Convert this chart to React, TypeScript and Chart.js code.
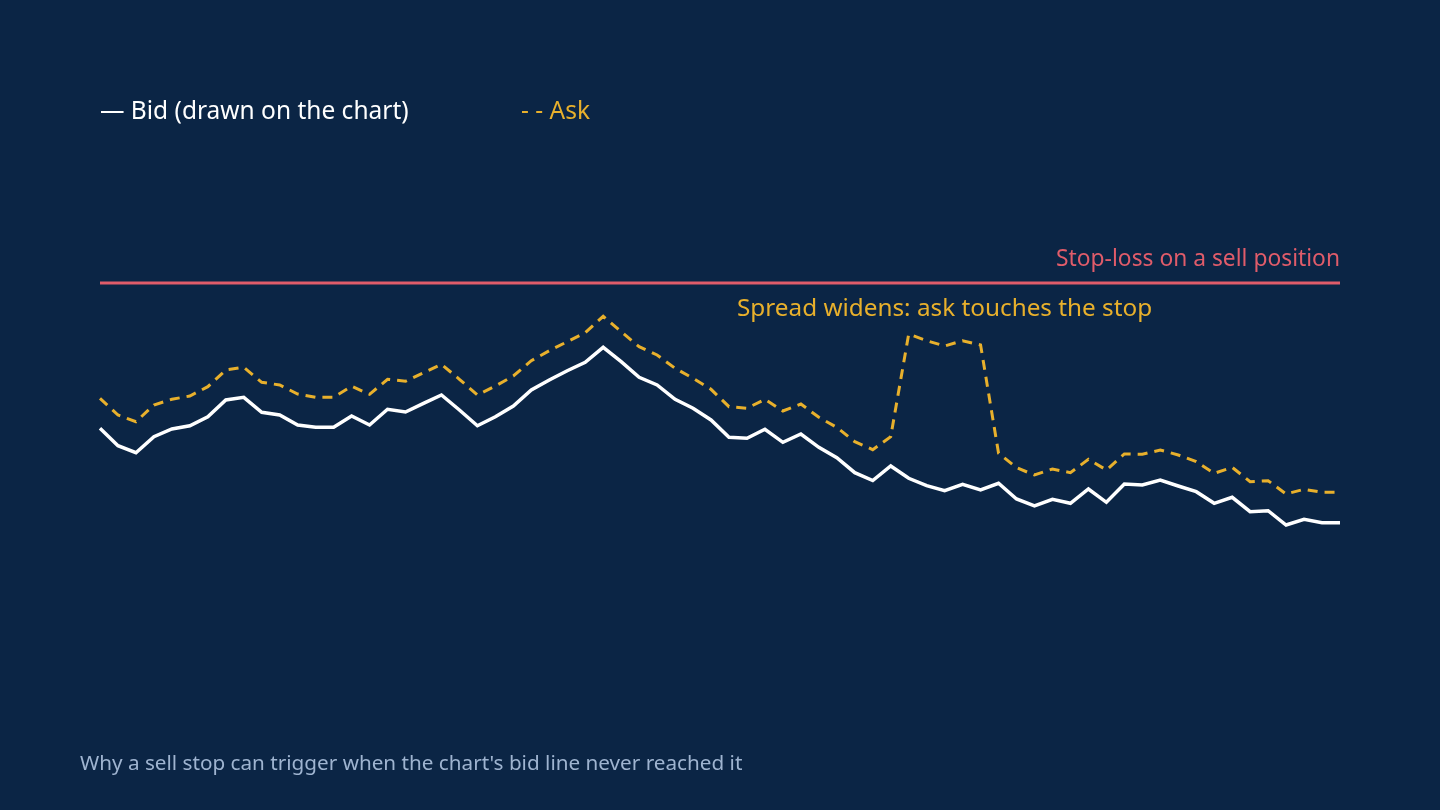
import { useEffect, useRef } from "react"
import { Chart, registerables } from "chart.js"

Chart.register(...registerables)

// Quote prices (arbitrary price units)
const bid = [
  17.17, 15.43, 14.73, 16.33, 17.1, 17.43, 18.33, 20.0, 20.27, 18.77,
  18.5, 17.5, 17.27, 17.27, 18.4, 17.5, 19.07, 18.8, 19.67, 20.5,
  19.0, 17.43, 18.33, 19.4, 21.0, 22.0, 22.93, 23.77, 25.27, 23.83,
  22.27, 21.5, 20.07, 19.17, 18.0, 16.27, 16.17, 17.07, 15.77, 16.6,
  15.27, 14.23, 12.73, 11.95, 13.4, 12.17, 11.43, 10.93, 11.57, 11.0,
  11.67, 10.1, 9.4, 10.07, 9.67, 11.1, 9.77, 11.6, 11.5, 12.0,
  11.4, 10.83, 9.67, 10.27, 8.83, 8.93, 7.5, 8.07, 7.73, 7.73,
]

const ask = [
  20.17, 18.5, 17.83, 19.5, 20.07, 20.4, 21.33, 23.0, 23.27, 21.77,
  21.5, 20.6, 20.27, 20.27, 21.37, 20.57, 22.07, 21.87, 22.73, 23.57,
  22.07, 20.5, 21.4, 22.4, 23.93, 24.93, 25.83, 26.73, 28.37, 26.83,
  25.33, 24.5, 23.17, 22.17, 21.07, 19.33, 19.17, 20.07, 18.9, 19.6,
  18.27, 17.27, 15.83, 15.03, 16.33, 26.6, 25.93, 25.4, 25.93, 25.5,
  14.67, 13.23, 12.5, 13.1, 12.73, 14.07, 13.0, 14.6, 14.57, 15.0,
  14.5, 13.83, 12.67, 13.27, 11.83, 11.93, 10.6, 11.07, 10.77, 10.77,
]

const stopLevel = 31.7
const ticks = bid.map((_, i) => i + 1)

const BG = "#0b2545"
const WHITE = "#ffffff"
const AMBER = "#e8b02c"
const RED = "#e05c6a"
const MUTED = "#9fb4d0"
const FONT = "'Noto Sans', 'Open Sans', sans-serif"

const textPlugin = {
  id: "texts",
  beforeDraw(chart: Chart) {
    const { ctx, width, height } = chart
    ctx.save()
    ctx.fillStyle = BG
    ctx.fillRect(0, 0, width, height)
    ctx.restore()
  },
  afterDraw(chart: Chart) {
    const { ctx, chartArea, scales } = chart
    const stopY = scales.y.getPixelForValue(stopLevel)
    ctx.save()
    ctx.textBaseline = "middle"

    // legend
    ctx.font = `24.5px ${FONT}`
    ctx.textAlign = "left"
    ctx.fillStyle = WHITE
    ctx.fillText("— Bid (drawn on the chart)", chartArea.left, 112)
    ctx.fillStyle = AMBER
    ctx.fillText("- - Ask", 521, 112)

    // stop-loss label
    ctx.font = `22.8px ${FONT}`
    ctx.textAlign = "right"
    ctx.fillStyle = RED
    ctx.fillText("Stop-loss on a sell position", chartArea.right, stopY - 23)

    // spread note
    ctx.font = `24.3px ${FONT}`
    ctx.textAlign = "left"
    ctx.fillStyle = AMBER
    ctx.fillText("Spread widens: ask touches the stop", 737, stopY + 26)

    // caption
    ctx.font = `20.7px ${FONT}`
    ctx.fillStyle = MUTED
    ctx.fillText("Why a sell stop can trigger when the chart's bid line never reached it", 80, 764)
    ctx.restore()
  },
}

export default function App() {
  const canvasRef = useRef<HTMLCanvasElement>(null)

  useEffect(() => {
    document.body.style.margin = "0"
    document.body.style.background = BG
    if (!canvasRef.current) return
    const chart = new Chart(canvasRef.current, {
      type: "line",
      data: {
        labels: ticks,
        datasets: [
          {
            label: "Stop-loss",
            data: ticks.map(() => stopLevel),
            borderColor: RED,
            borderWidth: 3,
            pointRadius: 0,
          },
          {
            label: "Ask",
            data: ask,
            borderColor: AMBER,
            borderWidth: 3,
            borderDash: [10, 7],
            pointRadius: 0,
          },
          {
            label: "Bid",
            data: bid,
            borderColor: WHITE,
            borderWidth: 3.5,
            pointRadius: 0,
          },
        ],
      },
      options: {
        responsive: false,
        animation: false,
        devicePixelRatio: 1,
        layout: { padding: { left: 100, right: 100, top: 200, bottom: 110 } },
        plugins: { legend: { display: false }, tooltip: { enabled: false } },
        scales: {
          x: { display: false },
          y: { display: false, min: -10, max: 40 },
        },
      },
      plugins: [textPlugin],
    })
    return () => chart.destroy()
  }, [])

  return (
    <div style={{ position: "fixed", left: 0, top: 0 }}>
      <canvas ref={canvasRef} width={1440} height={810} />
    </div>
  )
}
